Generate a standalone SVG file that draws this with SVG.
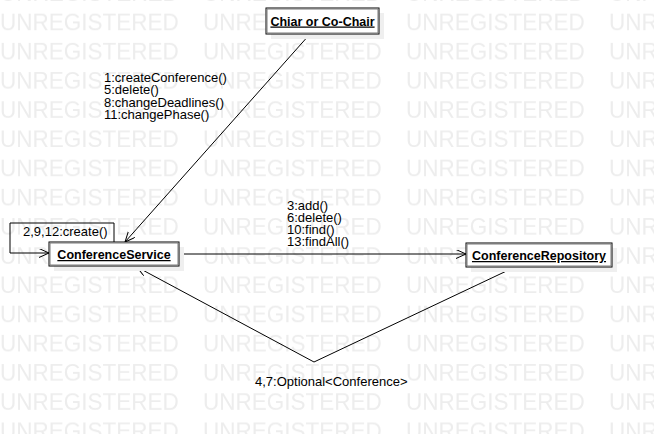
<svg xmlns="http://www.w3.org/2000/svg" width="654" height="434" viewBox="0 0 654 434">
  <style>
    .wm { font-family: "Liberation Sans", Arial, sans-serif; font-size: 22.5px; fill: #ededed; }
    .box { fill: #ffffff; stroke: #000000; stroke-width: 1; }
    .inner { fill: none; stroke: #7a7a7a; stroke-width: 1; }
    .shadow { fill: #efefef; }
    .name { font-family: "Liberation Sans", Arial, sans-serif; font-size: 12.5px; font-weight: bold; text-decoration: underline; fill: #000; text-anchor: middle; }
    .lbl { font-family: "Liberation Sans", Arial, sans-serif; font-size: 13px; fill: #000; }
    .conn { fill: none; stroke: #000; stroke-width: 1; }
  </style>
  <defs>
    <marker id="arrow" markerUnits="userSpaceOnUse" markerWidth="12" markerHeight="12" refX="10" refY="4.5" orient="auto">
      <path d="M0,0 L10,4.5 L0,9" fill="none" stroke="#000" stroke-width="1"/>
    </marker>
    <pattern id="wmark" patternUnits="userSpaceOnUse" x="0" y="2" width="203" height="29.2">
      <text class="wm" x="0" y="28">UNREGISTERED</text>
    </pattern>
  </defs>
  <rect width="654" height="434" fill="#ffffff"/>
  <rect width="654" height="434" fill="url(#wmark)"/>

  <g id="connectors">
    <path class="conn" d="M310,34 L125,242" marker-end="url(#arrow)"/>
    <path class="conn" d="M114,242 L114,223 L10,223 L10,253 L49,253" marker-end="url(#arrow)"/>
    <path class="conn" d="M179,254 L466,254" marker-end="url(#arrow)"/>
    <path class="conn" d="M515,267 L314,362 L137,267" marker-end="url(#arrow)"/>
    <text class="lbl" x="104" y="82">1:createConference()</text>
    <text class="lbl" x="104" y="94.3">5:delete()</text>
    <text class="lbl" x="104" y="106.6">8:changeDeadlines()</text>
    <text class="lbl" x="104" y="119">11:changePhase()</text>
    <text class="lbl" x="23" y="236">2,9,12:create()</text>
    <text class="lbl" x="287" y="210">3:add()</text>
    <text class="lbl" x="287" y="222">6:delete()</text>
    <text class="lbl" x="287" y="234">10:find()</text>
    <text class="lbl" x="287" y="246">13:findAll()</text>
    <text class="lbl" x="255" y="386">4,7:Optional&lt;Conference&gt;</text>
  </g>

  <g id="chair">
    <rect class="shadow" x="271" y="13" width="113" height="26"/>
    <rect class="box" x="266" y="8" width="113" height="26"/>
    <rect class="inner" x="267" y="9" width="111" height="24"/>
    <text class="name" x="322.5" y="25.5">Chiar or Co-Chair</text>
  </g>

  <g id="conferenceService">
    <rect class="shadow" x="54" y="247" width="130" height="24"/>
    <rect class="box" x="49" y="242" width="130" height="24"/>
    <rect class="inner" x="50" y="243" width="128" height="22"/>
    <text class="name" x="114" y="259">ConferenceService</text>
  </g>

  <g id="conferenceRepository">
    <rect class="shadow" x="471" y="248" width="146" height="24"/>
    <rect class="box" x="466" y="243" width="146" height="24"/>
    <rect class="inner" x="467" y="244" width="144" height="22"/>
    <text class="name" x="539" y="260">ConferenceRepository</text>
  </g>
</svg>
